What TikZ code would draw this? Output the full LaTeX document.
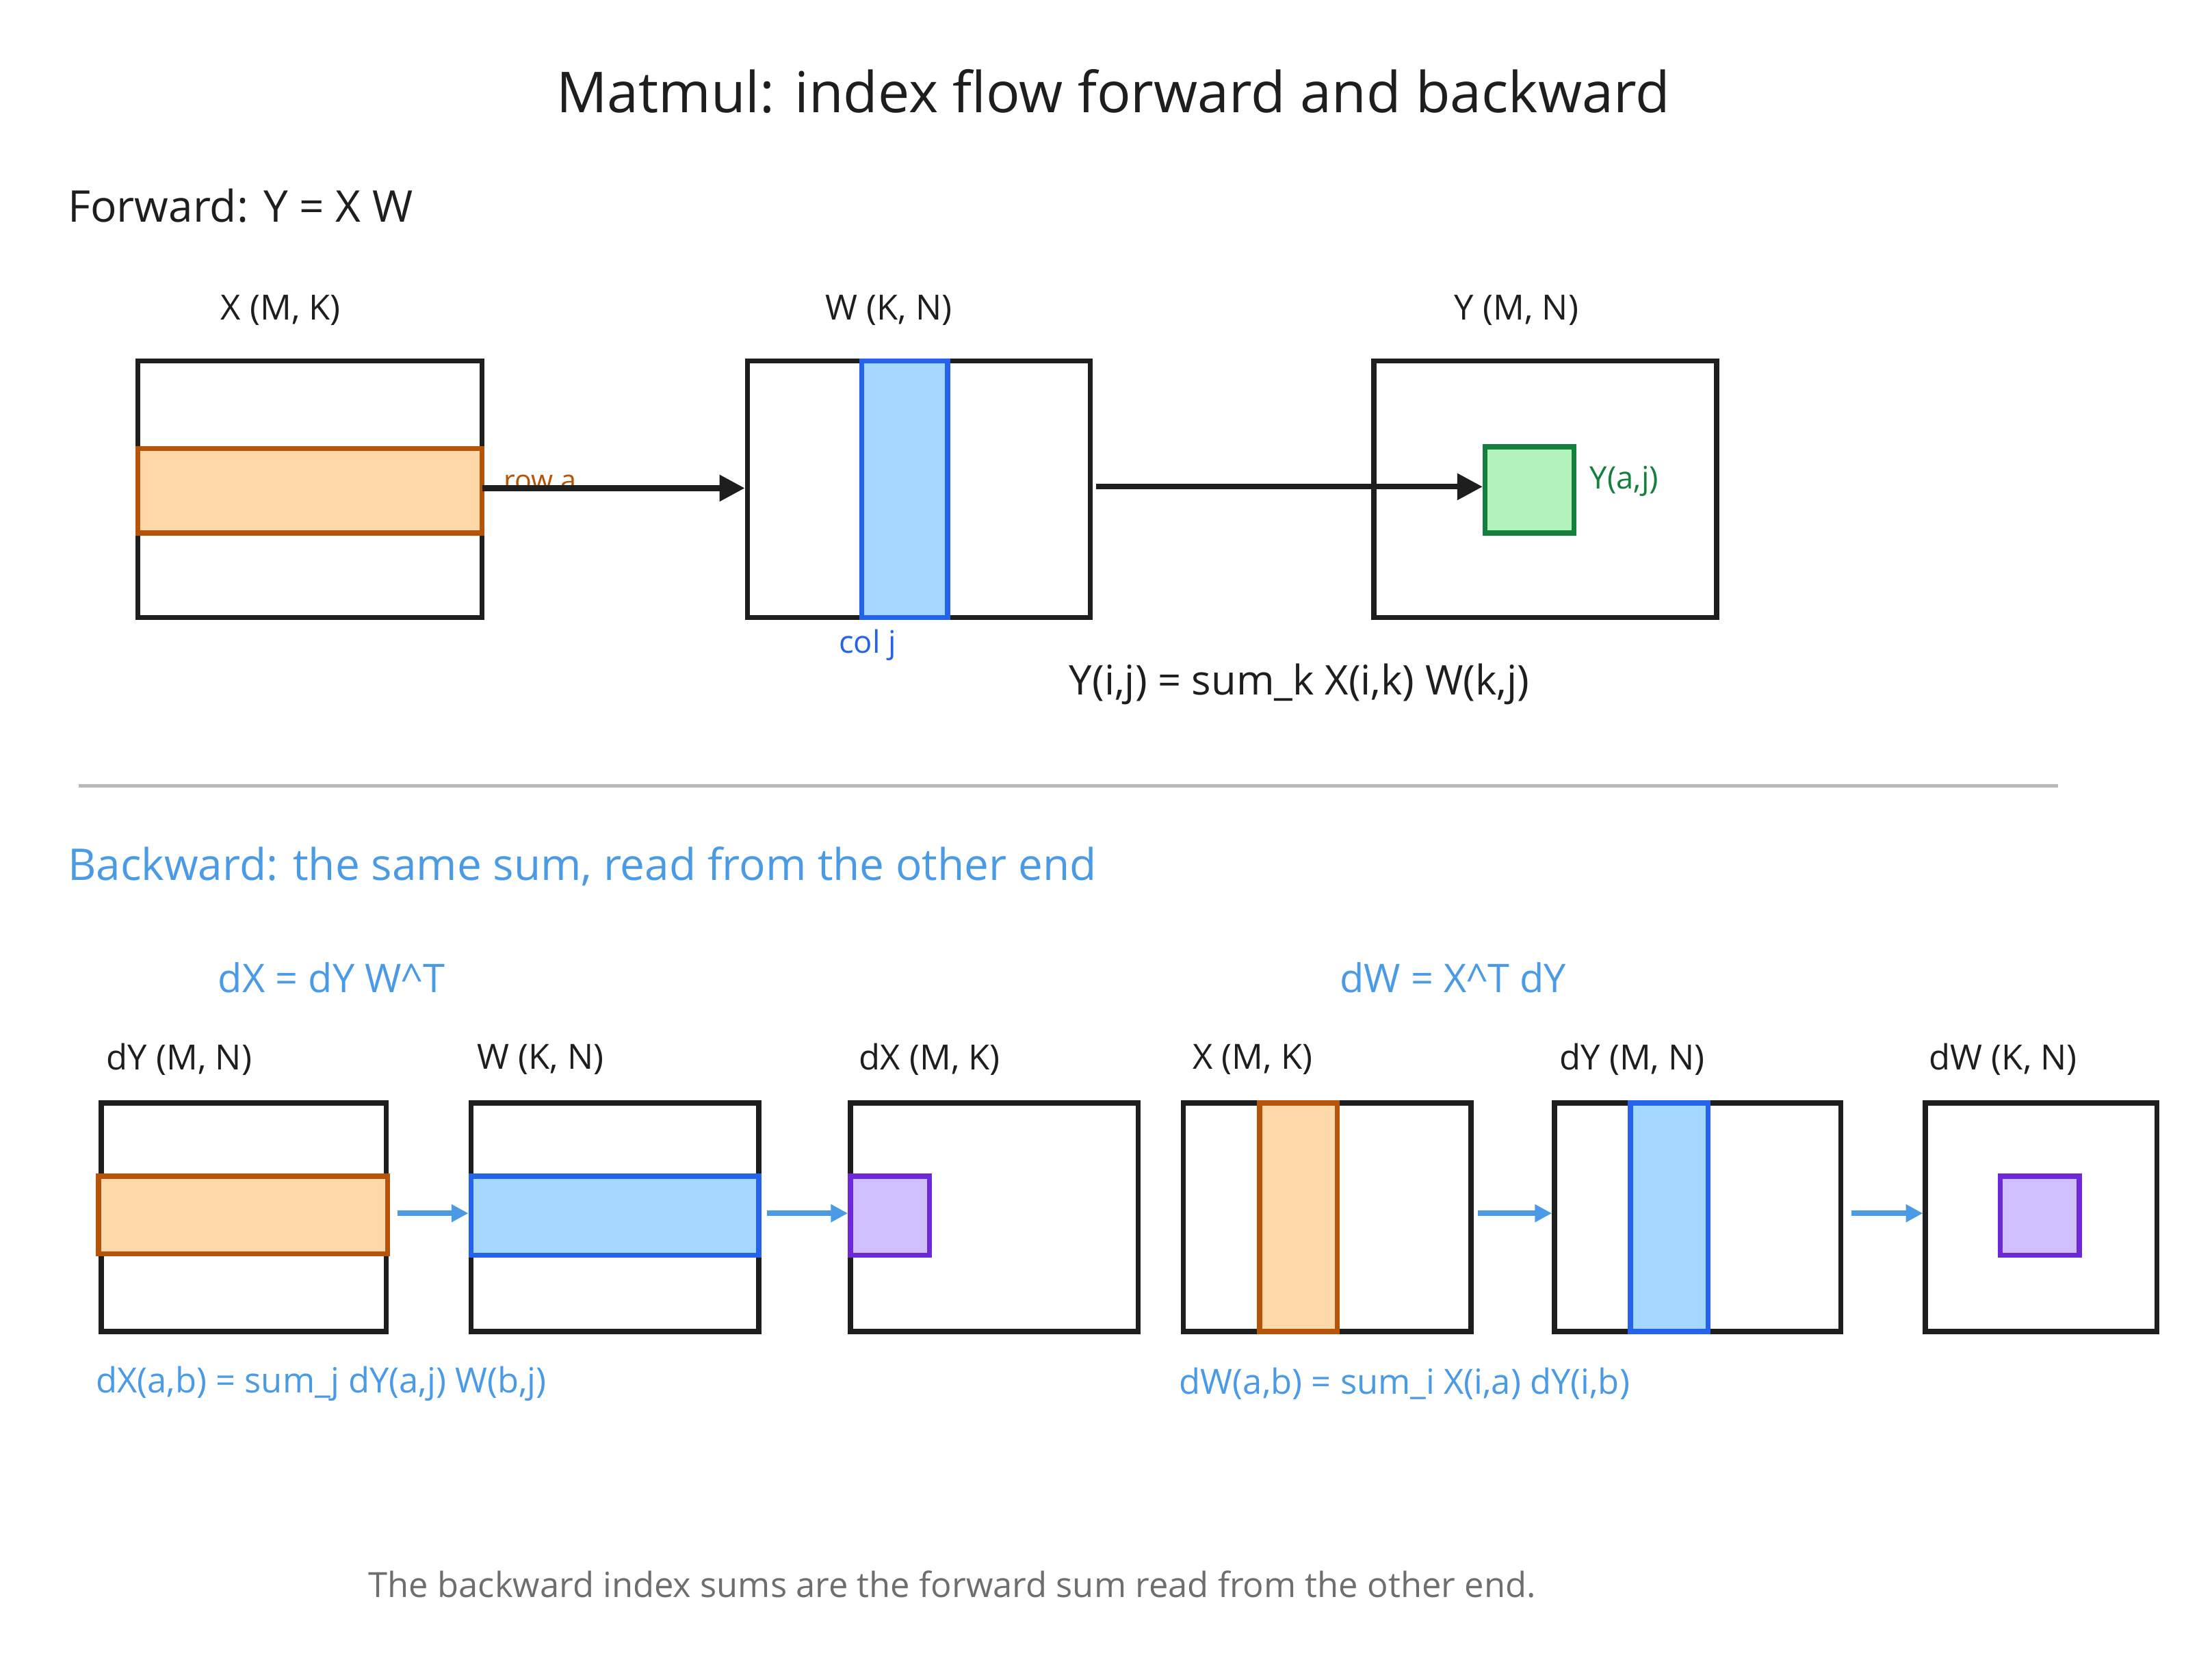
\documentclass[tikz,border=0pt]{standalone}
\usepackage{fontspec}
\setmainfont{Open Sans}
\usetikzlibrary{arrows.meta}
\definecolor{ink}{HTML}{1E1E1E}
\definecolor{ofill}{HTML}{FDD8A8}\definecolor{oline}{HTML}{B6540A}
\definecolor{bfill}{HTML}{A5D8FF}\definecolor{bline}{HTML}{2563EB}
\definecolor{gfill}{HTML}{B2F2BB}\definecolor{gline}{HTML}{15803D}
\definecolor{pfill}{HTML}{D0BFFF}\definecolor{pline}{HTML}{6D28D9}
\definecolor{txtblue}{HTML}{4A9AE6}
\definecolor{gray1}{HTML}{6E6E6E}
\begin{document}
\begin{tikzpicture}[x=0.5pt,y=-0.5pt,
  mat/.style={draw=ink,line width=1.8pt,fill=white,inner sep=0,anchor=north west},
  hl/.style={line width=1.8pt,inner sep=0,anchor=north west},
  orng/.style={hl,draw=oline,fill=ofill},
  blu/.style={hl,draw=bline,fill=bfill},
  grn/.style={hl,draw=gline,fill=gfill},
  prp/.style={hl,draw=pline,fill=pfill},
  lab/.style={font=\fontsize{12.3}{14}\selectfont,text=ink},
  arr/.style={draw=ink,line width=2pt,-{Triangle[length=9pt,width=9pt]}},
  barr/.style={draw=txtblue,line width=2pt,-{Triangle[length=6pt,width=6pt]}}]
\useasboundingbox (0,0) rectangle (1568,1187);
\node[font=\fontsize{20}{24}\selectfont,text=ink] (title) at (789,65) {Matmul: index flow forward and backward};
\node[font=\fontsize{15.5}{18}\selectfont,text=ink,anchor=west] (fwd) at (41,146) {Forward: Y = X W};
% forward
\node[mat,minimum width=122pt,minimum height=91pt] (X) at (96,254) {};
\node[orng,minimum width=122pt,minimum height=30pt] (Xr) at (96,316) {};
\node[mat,minimum width=121.5pt,minimum height=91pt] (W) at (528,254) {};
\node[blu,minimum width=30.5pt,minimum height=91pt] (Wc) at (609,254) {};
\node[mat,minimum width=121.5pt,minimum height=91pt] (Y) at (972,254) {};
\node[grn,minimum width=31.5pt,minimum height=30.5pt] (Yc) at (1051,315) {};
\node[lab] (lX) at (199,220) {X (M, K)};
\node[lab] (lW) at (630,220) {W (K, N)};
\node[lab] (lY) at (1075,220) {Y (M, N)};
\node[font=\fontsize{10}{12}\selectfont,text=oline,anchor=west] (rowa) at (350,342) {row a};
\node[font=\fontsize{11}{13}\selectfont,text=bline] (colj) at (615,457) {col j};
\node[font=\fontsize{11}{13}\selectfont,text=gline,anchor=west] (yaj) at (1120,341) {Y(a,j)};
\coordinate (a1s) at (342,346); \coordinate (a2s) at (777,345);
\draw[arr] (a1s) -- (W.west |- a1s);
\draw[arr] (a2s) -- (Yc.west |- a2s);
\node[font=\fontsize{14.5}{17}\selectfont,text=ink] (eq) at (921,485) {Y(i,j) = sum\_k X(i,k) W(k,j)};
% separator
\coordinate (s1) at (56,557); \coordinate (s2) at (1459,557);
\draw[line width=1.2pt,draw=gray!55] (s1) -- (s2);
\node[font=\fontsize{15.5}{18}\selectfont,text=txtblue,anchor=west] (bwd) at (41,614) {Backward: the same sum, read from the other end};
\node[font=\fontsize{14}{16}\selectfont,text=txtblue] (h1) at (235,693) {dX = dY W\^{}T};
\node[font=\fontsize{14}{16}\selectfont,text=txtblue] (h2) at (1030,693) {dW = X\^{}T dY};
% backward boxes
\node[mat,minimum width=101pt,minimum height=81pt] (B1) at (70,780) {};
\node[orng,minimum width=102.5pt,minimum height=27.5pt] (B1r) at (68,832) {};
\node[mat,minimum width=102pt,minimum height=81pt] (B2) at (332,780) {};
\node[blu,minimum width=102pt,minimum height=28pt] (B2r) at (332,832) {};
\node[mat,minimum width=102pt,minimum height=81pt] (B3) at (601,780) {};
\node[prp,minimum width=28pt,minimum height=28pt] (B3c) at (601,832) {};
\node[mat,minimum width=102pt,minimum height=81pt] (B4) at (837,780) {};
\node[orng,minimum width=27.5pt,minimum height=81pt] (B4c) at (891,780) {};
\node[mat,minimum width=101.5pt,minimum height=81pt] (B5) at (1100,780) {};
\node[blu,minimum width=27.5pt,minimum height=81pt] (B5c) at (1154,780) {};
\node[mat,minimum width=82pt,minimum height=81pt] (B6) at (1363,780) {};
\node[prp,minimum width=28pt,minimum height=28pt] (B6c) at (1416,832) {};
\node[lab] (lb1) at (127,751) {dY (M, N)};
\node[lab] (lb2) at (383,751) {W (K, N)};
\node[lab] (lb3) at (659,751) {dX (M, K)};
\node[lab] (lb4) at (888,751) {X (M, K)};
\node[lab] (lb5) at (1157,751) {dY (M, N)};
\node[lab] (lb6) at (1420,751) {dW (K, N)};
\draw[barr] (B1.east |- 0,860) ++(6,0) -- (B2.west |- 0,860);
\draw[barr] (B2.east |- 0,860) ++(4,0) -- (B3.west |- 0,860);
\draw[barr] (B4.east |- 0,860) ++(3,0) -- (B5.west |- 0,860);
\draw[barr] (B5.east |- 0,860) ++(6,0) -- (B6.west |- 0,860);
\node[font=\fontsize{12.3}{14}\selectfont,text=txtblue,anchor=west] (f1) at (61,981) {dX(a,b) = sum\_j dY(a,j) W(b,j)};
\node[font=\fontsize{12.3}{14}\selectfont,text=txtblue,anchor=west] (f2) at (829,981) {dW(a,b) = sum\_i X(i,a) dY(i,b)};
\node[font=\fontsize{12.3}{14}\selectfont,text=gray1] (foot) at (675,1123) {The backward index sums are the forward sum read from the other end.};
\end{tikzpicture}
\end{document}
